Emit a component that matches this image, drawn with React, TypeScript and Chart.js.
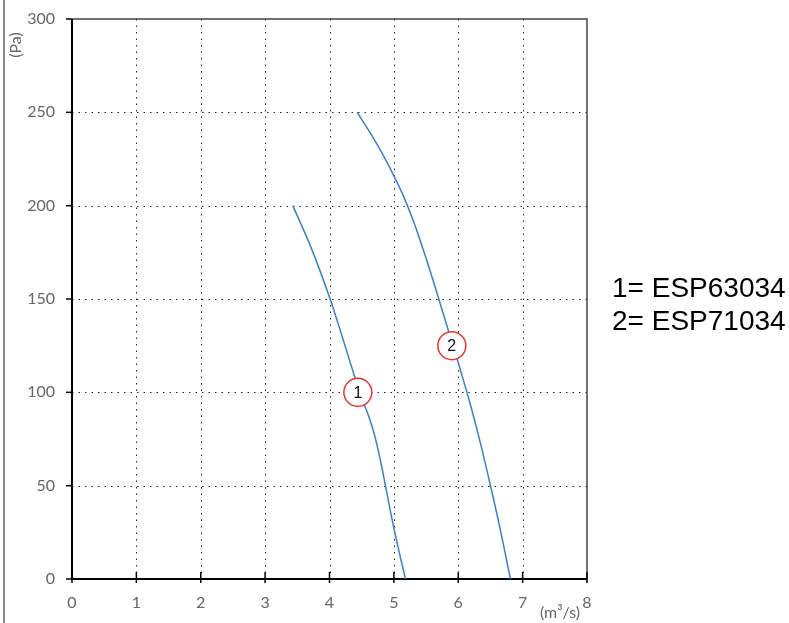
import React, { useEffect, useRef } from "react";
import { Chart, registerables } from "chart.js";

Chart.register(...registerables);

const curve1X = [3.43, 3.72, 4.0, 4.2, 4.39, 4.5, 4.6, 4.7, 4.8, 4.88, 5.02, 5.18];
const curve1Y = [200, 177, 151, 129.5, 108.5, 97, 88, 77, 62, 48, 24, 0];
const curve2X = [4.43, 4.65, 4.85, 5.0, 5.15, 5.3, 5.45, 5.6, 5.75, 5.9, 6.05, 6.2, 6.35, 6.5, 6.65, 6.81];
const curve2Y = [250, 238, 226, 216, 205, 192, 177, 161, 144, 127, 110, 92, 72, 50, 27, 0];
const markerX = [4.44, 5.9];
const markerY = [100, 125];
const markerText = ["1", "2"];
const legendLines = ["1= ESP63034", "2= ESP71034"];
const xTitle = "(m³/s)";
const yTitle = "(Pa)";

const LINE_COLOR = "#3b7fcc";
const TICK_FONT = "Lato, 'DejaVu Sans', sans-serif";

const decorPlugin = {
  id: "decor",
  beforeDatasetsDraw(chart: any) {
    const { ctx, chartArea: a, scales } = chart;
    const xs = scales.x;
    const ys = scales.y;
    ctx.save();
    ctx.strokeStyle = "#222";
    ctx.lineWidth = 1;
    ctx.setLineDash([1.5, 5]);
    xs.ticks.forEach((t: any) => {
      const px = Math.round(xs.getPixelForValue(t.value)) + 0.5;
      if (px <= a.left + 1 || px >= a.right - 1) return;
      ctx.beginPath();
      ctx.moveTo(px, a.top);
      ctx.lineTo(px, a.bottom);
      ctx.stroke();
    });
    ys.ticks.forEach((t: any) => {
      const py = Math.round(ys.getPixelForValue(t.value)) + 0.5;
      if (py <= a.top + 1 || py >= a.bottom - 1) return;
      ctx.beginPath();
      ctx.moveTo(a.left, py);
      ctx.lineTo(a.right, py);
      ctx.stroke();
    });
    ctx.setLineDash([]);
    ctx.strokeStyle = "#444";
    ctx.lineWidth = 1.5;
    ctx.beginPath();
    ctx.moveTo(a.left, a.top);
    ctx.lineTo(a.right, a.top);
    ctx.lineTo(a.right, a.bottom);
    ctx.stroke();
    ctx.strokeStyle = "#000";
    ctx.lineWidth = 2;
    ctx.beginPath();
    ctx.moveTo(a.left, a.top);
    ctx.lineTo(a.left, a.bottom);
    ctx.lineTo(a.right, a.bottom);
    ctx.stroke();
    ctx.lineWidth = 1.5;
    xs.ticks.forEach((t: any) => {
      const px = xs.getPixelForValue(t.value);
      ctx.beginPath();
      ctx.moveTo(px, a.bottom - 7);
      ctx.lineTo(px, a.bottom + 4);
      ctx.stroke();
    });
    ys.ticks.forEach((t: any) => {
      const py = ys.getPixelForValue(t.value);
      ctx.beginPath();
      ctx.moveTo(a.left - 6, py);
      ctx.lineTo(a.left, py);
      ctx.stroke();
    });
    ctx.restore();
  },
  afterDatasetsDraw(chart: any) {
    const { ctx, chartArea: a, scales } = chart;
    const xs = scales.x;
    const ys = scales.y;
    ctx.save();
    markerX.forEach((mx, i) => {
      const px = xs.getPixelForValue(mx);
      const py = ys.getPixelForValue(markerY[i]);
      ctx.beginPath();
      ctx.arc(px, py, 14, 0, Math.PI * 2);
      ctx.fillStyle = "#fff";
      ctx.fill();
      ctx.strokeStyle = "#e8332f";
      ctx.lineWidth = 1.5;
      ctx.stroke();
      ctx.fillStyle = "#111";
      ctx.font = "16px 'Liberation Sans', Arial, sans-serif";
      ctx.textAlign = "center";
      ctx.textBaseline = "middle";
      ctx.fillText(markerText[i], px, py + 1);
    });
    ctx.fillStyle = "#666";
    ctx.font = "16px " + TICK_FONT;
    ctx.textAlign = "center";
    ctx.textBaseline = "middle";
    ctx.fillText(xTitle, a.right - 27, 613);
    ctx.save();
    ctx.translate(16, 45);
    ctx.rotate(-Math.PI / 2);
    ctx.fillText(yTitle, 0, 0);
    ctx.restore();
    ctx.fillStyle = "#000";
    ctx.font = "28px 'Liberation Sans', Arial, sans-serif";
    ctx.textAlign = "left";
    ctx.textBaseline = "alphabetic";
    legendLines.forEach((s, i) => {
      ctx.fillText(s, 612, 297 + i * 33);
    });
    ctx.restore();
  },
};

export default function App() {
  const ref = useRef<HTMLCanvasElement | null>(null);
  useEffect(() => {
    if (!ref.current) return;
    const ds = (xs: number[], ys: number[]) => ({
      data: xs.map((x, i) => ({ x, y: ys[i] })),
      showLine: true,
      borderColor: LINE_COLOR,
      borderWidth: 1.5,
      pointRadius: 0,
      tension: 0.4,
    });
    const chart = new Chart(ref.current, {
      type: "scatter",
      data: { datasets: [ds(curve1X, curve1Y), ds(curve2X, curve2Y)] },
      options: {
        animation: false,
        responsive: false,
        maintainAspectRatio: false,
        layout: { padding: { left: 0, top: 19, right: 202, bottom: 0 } },
        plugins: { legend: { display: false }, tooltip: { enabled: false } },
        scales: {
          x: {
            type: "linear",
            min: 0,
            max: 8,
            grid: { display: false, drawTicks: false },
            border: { display: false },
            ticks: {
              stepSize: 1,
              padding: 14,
              color: "#666",
              font: { family: TICK_FONT, size: 16 },
            },
            afterFit: (s: any) => {
              s.height = 44;
              s.paddingLeft = 0;
              s.paddingRight = 0;
            },
          },
          y: {
            min: 0,
            max: 300,
            grid: { display: false, drawTicks: false },
            border: { display: false },
            ticks: {
              stepSize: 50,
              padding: 17,
              color: "#666",
              font: { family: TICK_FONT, size: 16 },
            },
            afterFit: (s: any) => {
              s.width = 72;
              s.paddingTop = 0;
              s.paddingBottom = 0;
            },
          },
        },
      },
      plugins: [decorPlugin],
    } as any);
    return () => chart.destroy();
  }, []);
  return (
    <div style={{ position: "fixed", left: 0, top: 0, width: 789, height: 623, background: "#fff" }}>
      <div style={{ position: "absolute", left: 3, top: 0, width: 2, height: 623, background: "#8a8a8a" }} />
      <canvas ref={ref} width={789} height={623} style={{ position: "absolute", left: 0, top: 0 }} />
    </div>
  );
}
